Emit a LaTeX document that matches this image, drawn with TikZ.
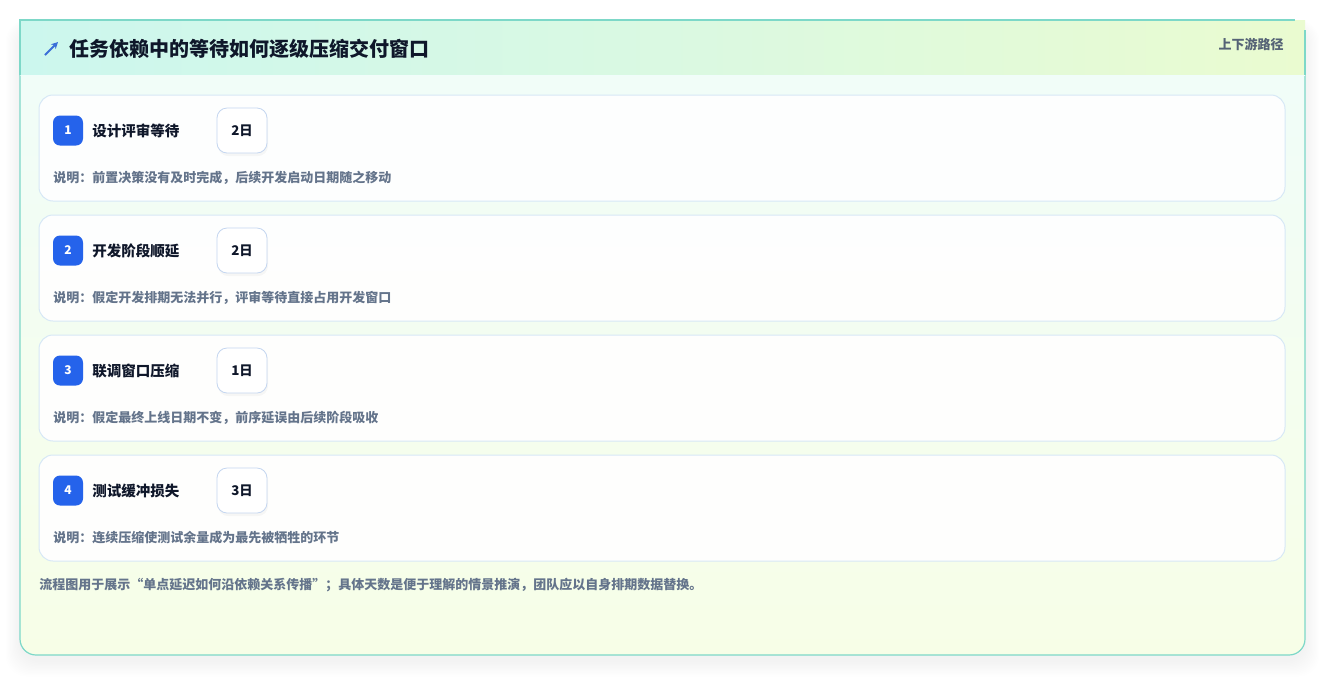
\documentclass[tikz,border=0pt]{standalone}
\usepackage{fontspec}
\setmainfont{Noto Sans CJK SC}
\usetikzlibrary{arrows.meta}
\definecolor{cardborder}{RGB}{125,216,200}
\definecolor{headL}{RGB}{204,247,238}
\definecolor{headM}{RGB}{218,249,226}
\definecolor{headR}{RGB}{234,251,208}
\definecolor{bodyT}{RGB}{240,253,250}
\definecolor{bodyB}{RGB}{247,254,231}
\definecolor{stepborder}{RGB}{215,232,246}
\definecolor{badge}{RGB}{37,99,235}
\definecolor{dayborder}{RGB}{196,214,240}
\definecolor{ink}{RGB}{15,23,42}
\definecolor{muted}{RGB}{100,116,139}
\definecolor{iconblue}{RGB}{59,111,216}
\tikzset{
  stepcard/.style={draw=stepborder, line width=0.75pt, fill=white, fill opacity=0.92, draw opacity=1, rounded corners=10.5pt},
  badgebox/.style={fill=badge, rounded corners=5.25pt, minimum width=22.5pt, minimum height=22.5pt, inner sep=0pt, text=white, font=\bfseries\fontsize{9}{10}\selectfont},
  daybox/.style={draw=dayborder, line width=0.6pt, fill=white, rounded corners=7.5pt, minimum width=37.5pt, minimum height=33.75pt, inner sep=0pt, text=ink, font=\bfseries\fontsize{10}{11}\selectfont},
  steplabel/.style={anchor=west, inner sep=0pt, text=ink, font=\bfseries\fontsize{10.9}{12}\selectfont},
  desc/.style={anchor=west, inner sep=0pt, text=muted, font=\bfseries\fontsize{9.75}{11}\selectfont},
}
\begin{document}
\begin{tikzpicture}[x=0.75pt,y=-0.75pt]
\useasboundingbox (0,0) rectangle (1325,676);
\fill[white] (0,0) rectangle (1325,676);
% soft shadow
\foreach \i in {1,...,12}{
  \fill[black, opacity=0.005, rounded corners=16pt] ({20-1.2*\i},{20+6-0.5*\i}) rectangle ({1305+1.2*\i},{655+6+1.3*\i});
}
% card body
\shade[top color=bodyT, bottom color=bodyB, rounded corners=12pt] (20,20) rectangle (1305,655);
\draw[cardborder, line width=0.9pt, rounded corners=12pt] (20,20) rectangle (1305,655);
% header band
\shade[left color=headL, right color=headR, middle color=headM] (20,20) rectangle (1305,75);
\draw[cardborder, line width=0.9pt] (20,75) -- (20,20) -- (1295,20);
\draw[cardborder, line width=0.9pt] (1305,30) -- (1305,75);
\draw[white!70!headL, line width=0.75pt] (20.5,75) -- (1304.5,75);
% icon
\coordinate (icA) at (45,55);
\coordinate (icB) at (58,42);
\draw[iconblue, line width=1.4pt, -{Stealth[length=5pt,width=5pt]}] (icA) -- (icB);
\node[anchor=west, inner sep=0pt, text=ink, font=\bfseries\fontsize{15}{17}\selectfont] (title) at (69,49) {任务依赖中的等待如何逐级压缩交付窗口};
\node[anchor=east, inner sep=0pt, text=muted!85!black, font=\bfseries\fontsize{9.75}{11}\selectfont] (tag) at (1284,44) {上下游路径};
% steps
\foreach \n/\lab/\days/\d [count=\k from 0] in {
  1/设计评审等待/2日/说明：前置决策没有及时完成，后续开发启动日期随之移动,
  2/开发阶段顺延/2日/说明：假定开发排期无法并行，评审等待直接占用开发窗口,
  3/联调窗口压缩/1日/说明：假定最终上线日期不变，前序延误由后续阶段吸收,
  4/测试缓冲损失/3日/说明：连续压缩使测试余量成为最先被牺牲的环节}{
  \pgfmathsetmacro{\yy}{95+120*\k}
  \draw[stepcard] (39,\yy) rectangle (1285,\yy+106);
  \node[badgebox] (badge\n) at (68,\yy+35.5) {\n};
  \node[steplabel] (label\n) at (92,\yy+36) {\lab};
  \fill[black, opacity=0.03, rounded corners=7.5pt] (218,\yy+15) rectangle (268,\yy+61);
  \node[daybox] (day\n) at (242,\yy+35.5) {\days};
  \node[desc] (desc\n) at (53,\yy+83) {\d};
}
\node[desc] (note) at (39,585) {流程图用于展示“单点延迟如何沿依赖关系传播”；具体天数是便于理解的情景推演，团队应以自身排期数据替换。};
\end{tikzpicture}
\end{document}
